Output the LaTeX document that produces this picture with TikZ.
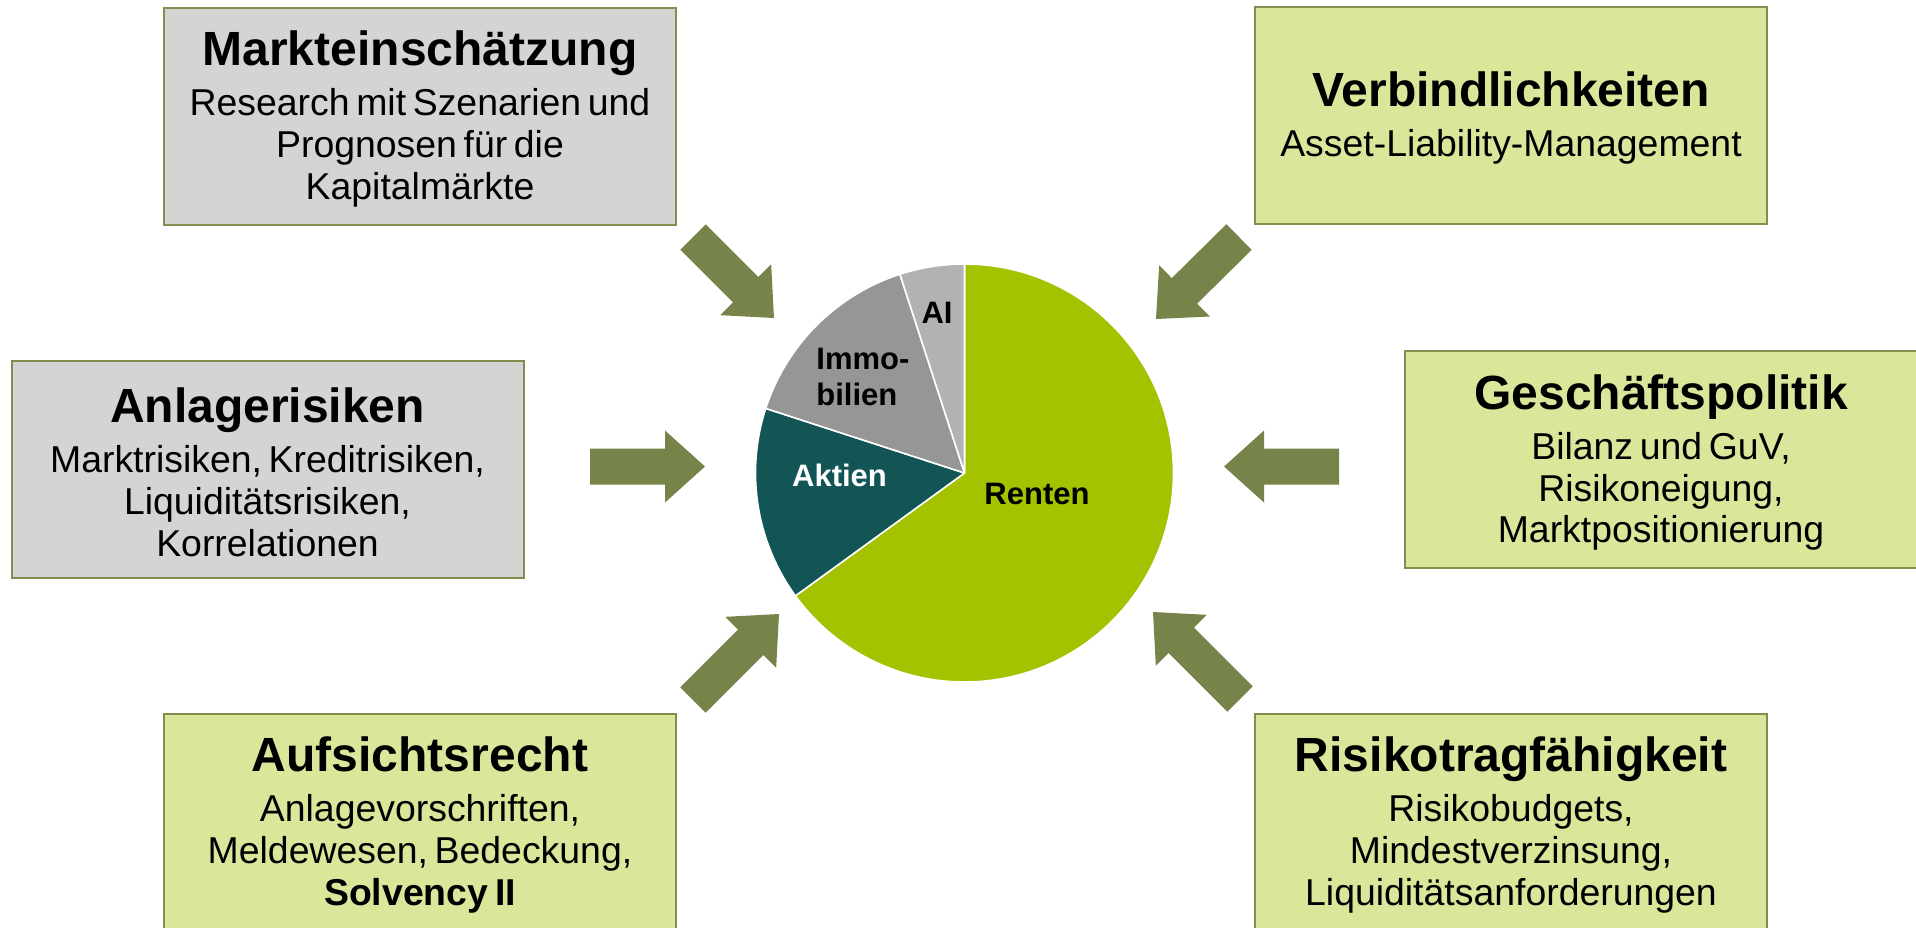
\documentclass[tikz,border=0pt]{standalone}
\usepackage{fontspec}
\setmainfont{Liberation Sans}
\usetikzlibrary{calc}
\setlength\parindent{0pt}
\definecolor{boxgray}{HTML}{D4D4D4}
\definecolor{boxgreen}{HTML}{DCE69B}
\definecolor{boxline}{HTML}{7F8F4F}
\definecolor{arrowc}{HTML}{76844A}
\definecolor{renten}{HTML}{A4C200}
\definecolor{aktien}{HTML}{135555}
\definecolor{immo}{HTML}{969696}
\definecolor{altinv}{HTML}{B2B2B2}
\newcommand\boxtext[2]{{\fontsize{24}{27}\selectfont\bfseries #1\par}\vskip 4.1pt{\fontsize{18.7}{20.9}\selectfont #2\par}}
\newcommand\blockarrow[2]{%
  \coordinate (#1n) at ($(#2)!20pt!(#1)$);
  \fill[arrowc] ($(#1)!9pt!90:(#2)$) -- ($(#1n)!9pt!90:(#2)$) -- ($(#1n)!18pt!90:(#2)$) -- (#2)
    -- ($(#1n)!18pt!-90:(#2)$) -- ($(#1n)!9pt!-90:(#2)$) -- ($(#1)!9pt!-90:(#2)$) -- cycle;}
\tikzset{
  infobox/.style={draw=boxline, line width=1pt, minimum width=256pt, minimum height=108.5pt, inner sep=0pt},
  graybox/.style={infobox, fill=boxgray},
  greenbox/.style={infobox, fill=boxgreen},
  boxtxt/.style={text width=245pt, align=center, inner sep=0pt},
  pielabel/.style={font=\fontsize{15.5}{18}\selectfont\bfseries, inner sep=0pt},
  slice/.style={draw=white, line width=0.8pt, line join=round}
}
\begin{document}
\begin{tikzpicture}[x=0.5pt,y=-0.5pt]
\useasboundingbox (0,0) rectangle (1916,927);
\fill[white] (0,0) rectangle (1916,927);

% boxes
\node[graybox] (mk) at (420,116) {};
\node[boxtxt] (mkt) at ($(mk.center)+(0,3)$) {\boxtext{Markteinschätzung}{Research mit Szenarien und\\Prognosen für die\\Kapitalmärkte}};
\node[greenbox] (vb) at (1511,115) {};
\node[boxtxt] (vbt) at ($(vb.center)+(0,3)$) {\boxtext{Verbindlichkeiten}{Asset-Liability-Management}};
\node[graybox] (ar) at (267.5,469.5) {};
\node[boxtxt] (art) at ($(ar.center)+(0,3)$) {\boxtext{Anlagerisiken}{Marktrisiken, Kreditrisiken,\\Liquiditätsrisiken,\\Korrelationen}};
\node[greenbox] (gp) at (1661,459.5) {};
\node[boxtxt] (gpt) at ($(gp.center)+(0,3)$) {\boxtext{Geschäftspolitik}{Bilanz und GuV,\\Risikoneigung,\\Marktpositionierung}};
\node[greenbox] (as) at (420,822) {};
\node[boxtxt] (ast) at ($(as.center)+(0,3)$) {\boxtext{Aufsichtsrecht}{Anlagevorschriften,\\Meldewesen, Bedeckung,\\\textbf{Solvency II}}};
\node[greenbox] (rt) at (1511,822) {};
\node[boxtxt] (rtt) at ($(rt.center)+(0,3)$) {\boxtext{Risikotragfähigkeit}{Risikobudgets,\\Mindestverzinsung,\\Liquiditätsanforderungen}};

% pie
\coordinate (pc) at (964.5,473);
\fill[renten, slice] (pc) -- ++(-90:209) arc[start angle=-90, end angle=144, radius=209] -- cycle;
\fill[aktien, slice] (pc) -- ++(144:209) arc[start angle=144, end angle=198, radius=209] -- cycle;
\fill[immo, slice] (pc) -- ++(198:209) arc[start angle=198, end angle=252, radius=209] -- cycle;
\fill[altinv, slice] (pc) -- ++(252:209) arc[start angle=252, end angle=270, radius=209] -- cycle;

\node[pielabel] (lai) at (937,313) {AI};
\node[pielabel, align=left, anchor=west] (limmo) at (816,377) {Immo-\\bilien};
\node[pielabel, text=white] (lakt) at (839.5,475) {Aktien};
\node[pielabel] (lren) at (1037,494) {Renten};

% arrows
\coordinate (aLa) at (590,466.5);  \coordinate (aLb) at (705,466.5);
\coordinate (aRa) at (1339,466.5); \coordinate (aRb) at (1224,466.5);
\coordinate (aTLa) at (693,237);   \coordinate (aTLb) at (774,318);
\coordinate (aTRa) at (1239,237);  \coordinate (aTRb) at (1156,319);
\coordinate (aBLa) at (693,700);   \coordinate (aBLb) at (779,614);
\coordinate (aBRa) at (1240,699);  \coordinate (aBRb) at (1153,612);
\blockarrow{aLa}{aLb}
\blockarrow{aRa}{aRb}
\blockarrow{aTLa}{aTLb}
\blockarrow{aTRa}{aTRb}
\blockarrow{aBLa}{aBLb}
\blockarrow{aBRa}{aBRb}
\end{tikzpicture}
\end{document}
